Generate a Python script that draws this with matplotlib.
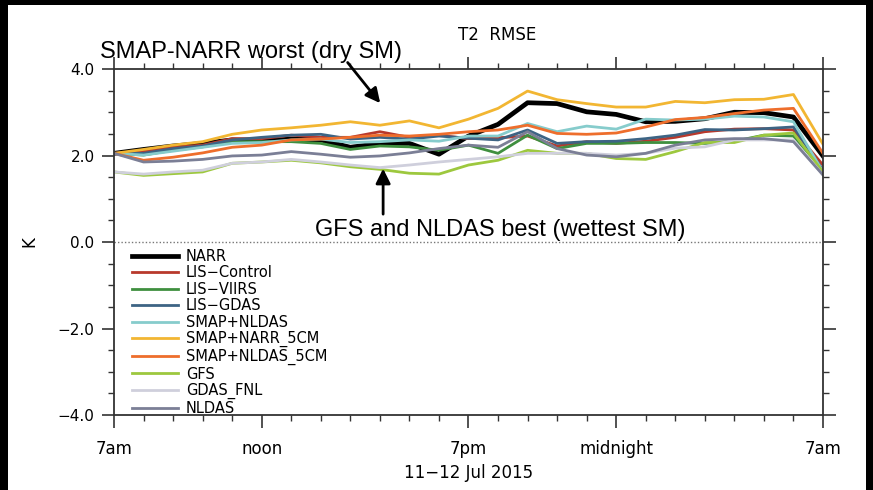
import matplotlib
matplotlib.use("Agg")
import matplotlib.pyplot as plt
from matplotlib.patches import Rectangle
from matplotlib.ticker import MultipleLocator, FixedLocator

# hourly T2 RMSE (K), 7am 11 Jul -> 7am 12 Jul 2015
hours = list(range(25))

narr = [2.05, 2.14, 2.22, 2.28, 2.36, 2.34, 2.38, 2.36, 2.19, 2.28, 2.28, 2.03, 2.45,
        2.72, 3.22, 3.20, 3.01, 2.95, 2.78, 2.79, 2.85, 3.00, 2.99, 2.89, 1.99]
lis_control = [2.05, 2.09, 2.19, 2.24, 2.39, 2.39, 2.47, 2.42, 2.42, 2.55, 2.42, 2.47, 2.39,
               2.41, 2.45, 2.22, 2.32, 2.28, 2.33, 2.42, 2.55, 2.61, 2.62, 2.59, 1.78]
lis_viirs = [2.05, 2.01, 2.12, 2.20, 2.32, 2.32, 2.32, 2.28, 2.14, 2.22, 2.20, 2.12, 2.24,
             2.05, 2.47, 2.16, 2.28, 2.28, 2.30, 2.30, 2.28, 2.33, 2.47, 2.45, 1.66]
lis_gdas = [2.05, 2.05, 2.16, 2.22, 2.36, 2.42, 2.47, 2.49, 2.38, 2.42, 2.38, 2.45, 2.40,
            2.36, 2.59, 2.28, 2.32, 2.33, 2.39, 2.47, 2.60, 2.59, 2.62, 2.66, 1.66]
smap_nldas = [2.05, 2.01, 2.10, 2.19, 2.28, 2.30, 2.36, 2.38, 2.30, 2.32, 2.36, 2.33, 2.45,
              2.45, 2.74, 2.55, 2.68, 2.61, 2.84, 2.82, 2.84, 2.91, 2.89, 2.78, 1.62]
smap_narr_5cm = [2.05, 2.14, 2.24, 2.32, 2.49, 2.59, 2.64, 2.70, 2.78, 2.70, 2.80, 2.64, 2.84,
                 3.09, 3.49, 3.29, 3.20, 3.12, 3.12, 3.25, 3.22, 3.29, 3.30, 3.41, 2.26]
smap_nldas_5cm = [2.05, 1.89, 1.96, 2.06, 2.19, 2.24, 2.36, 2.38, 2.42, 2.47, 2.45, 2.49, 2.55,
                  2.59, 2.70, 2.51, 2.49, 2.52, 2.66, 2.83, 2.88, 2.97, 3.05, 3.09, 2.05]
gfs = [1.62, 1.54, 1.58, 1.62, 1.82, 1.85, 1.89, 1.83, 1.74, 1.68, 1.59, 1.57, 1.78,
       1.89, 2.12, 2.05, 2.05, 1.93, 1.91, 2.09, 2.30, 2.30, 2.47, 2.52, 1.62]
gdas_fnl = [1.62, 1.57, 1.62, 1.66, 1.82, 1.85, 1.91, 1.85, 1.78, 1.72, 1.78, 1.85, 1.91,
            1.97, 2.05, 2.05, 2.05, 2.01, 2.05, 2.17, 2.20, 2.36, 2.36, 2.36, 1.55]
nldas = [2.05, 1.85, 1.87, 1.91, 1.99, 2.01, 2.09, 2.03, 1.96, 1.99, 2.06, 2.16, 2.24,
         2.19, 2.55, 2.16, 2.01, 1.97, 2.05, 2.24, 2.36, 2.39, 2.39, 2.32, 1.55]

series = [
    ("NARR", narr, "#000000", 3.4),
    ("LIS\u2212Control", lis_control, "#b8392c", 2.0),
    ("LIS\u2212VIIRS", lis_viirs, "#3f8f3f", 2.0),
    ("LIS\u2212GDAS", lis_gdas, "#3d6484", 2.0),
    ("SMAP+NLDAS", smap_nldas, "#86cccc", 2.0),
    ("SMAP+NARR_5CM", smap_narr_5cm, "#f2b632", 2.0),
    ("SMAP+NLDAS_5CM", smap_nldas_5cm, "#ee6e2c", 2.0),
    ("GFS", gfs, "#9dc83e", 2.0),
    ("GDAS_FNL", gdas_fnl, "#cfcfdc", 2.0),
    ("NLDAS", nldas, "#7b7f96", 2.0),
]

tick_hours = [0, 5, 12, 17, 24]
tick_labels = ["7am", "noon", "7pm", "midnight", "7am"]

fig = plt.figure(figsize=(8.73, 4.90), dpi=100, facecolor="white")
ax = fig.add_axes([0.1306, 0.153, 0.8121, 0.7062])

for label, vals, color, lw in series:
    ax.plot(hours, vals, color=color, lw=lw, label=label)

ax.axhline(0.0, color="#777777", lw=1.0, ls=(0, (1, 1.5)))

ax.set_xlim(0, 24)
ax.set_ylim(-4, 4)
ax.xaxis.set_major_locator(FixedLocator(tick_hours))
ax.xaxis.set_minor_locator(MultipleLocator(1))
ax.set_xticklabels(tick_labels, fontsize=12)
ax.yaxis.set_minor_locator(MultipleLocator(0.5))
ax.set_yticks([-4, -2, 0, 2, 4])
ax.set_yticklabels(["\u22124.0", "\u22122.0", "0.0", "2.0", "4.0"], fontsize=11)
ax.tick_params(which="both", direction="out", top=True, right=True, color="#333333")
ax.tick_params(which="major", length=9, width=1.2, pad=5)
ax.tick_params(which="minor", length=4, width=1.0)
ax.tick_params(axis="x", which="major", pad=9)
for sp in ax.spines.values():
    sp.set_color("#333333")
    sp.set_linewidth(1.3)

ax.set_ylabel("K", fontsize=12, labelpad=14)
ax.set_xlabel("11\u221212 Jul 2015", fontsize=12, labelpad=4)
fig.text(0.569, 1 - 35 / 490, "T2  RMSE", fontsize=12, ha="center", va="center")

leg = ax.legend(loc="upper left", bbox_to_anchor=(0.025, 0.48), frameon=False,
                prop={"size": 10.5}, handlelength=3.2,
                handletextpad=0.5, labelspacing=0.1, borderpad=0, borderaxespad=0)

# annotations with arrows
fig.text(100 / 873, 1 - 52 / 490, "SMAP-NARR worst (dry SM)", fontsize=17,
         family="Liberation Sans", ha="left", va="center")
ax.annotate("", xy=(9.07, 3.16), xytext=(7.85, 4.2), annotation_clip=False,
            arrowprops=dict(arrowstyle="-|>", color="black", lw=2, mutation_scale=22))
ax.text(13.07, 0.28, "GFS and NLDAS best (wettest SM)", fontsize=17,
        family="Liberation Sans", ha="center", va="center")
ax.annotate("", xy=(9.11, 1.76), xytext=(9.11, 0.58),
            arrowprops=dict(arrowstyle="-|>", color="black", lw=2, mutation_scale=22))

# black frame strips along the edges
for rect in [(0, 0, 8 / 873, 1), (1 - 7 / 873, 0, 7 / 873, 1), (0, 1 - 5 / 490, 1, 5 / 490)]:
    fig.patches.append(Rectangle(rect[:2], rect[2], rect[3], transform=fig.transFigure,
                                 facecolor="black", edgecolor="none", zorder=10))

fig.savefig("out.png", dpi=100, facecolor="white")
